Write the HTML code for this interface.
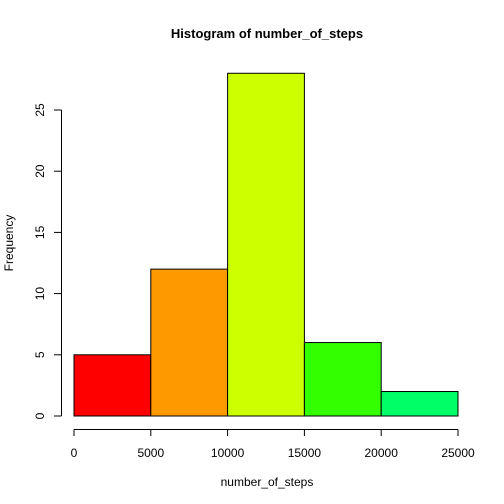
<!DOCTYPE html>
<html><head><meta charset="utf-8"><style>
body{margin:0;background:#fff;}
svg{display:block;font-family:"Liberation Sans",Arial,sans-serif;}
</style></head><body>
<svg id="chart" width="504" height="504">
<rect width="504" height="504" fill="#fff"/>
<text x="267" y="38" text-anchor="middle" font-weight="bold" font-size="13">Histogram of number_of_steps</text>
<text x="267" y="486" text-anchor="middle" font-size="12">number_of_steps</text>
<text transform="translate(13,243) rotate(-90)" text-anchor="middle" font-size="12">Frequency</text>
<g id="bars"></g><g id="xaxis"></g><g id="yaxis"></g>
</svg>
<script>
const binStarts=[0,5000,10000,15000,20000];
const binWidth=5000;
const counts=[5,12,28,6,2];
const colors=["#FF0000","#FF9900","#CCFF00","#33FF00","#00FF66"];
const xTicks=[0,5000,10000,15000,20000,25000];
const yTicks=[0,5,10,15,20,25];
const NS="http://www.w3.org/2000/svg";
const xs=v=>74+v*(384/25000);
const ys=v=>416-v*(306/25);
function mk(t,a,p){const e=document.createElementNS(NS,t);for(const k in a)e.setAttribute(k,a[k]);p.appendChild(e);return e;}
const bars=document.getElementById('bars');
binStarts.forEach((b,i)=>{
  const r=mk('rect',{x:xs(b),y:ys(counts[i]),width:xs(b+binWidth)-xs(b),height:ys(0)-ys(counts[i]),fill:colors[i],stroke:'#000','stroke-width':1},bars);
  
  
});
const xa=document.getElementById('xaxis');


mk('line',{x1:xs(xTicks[0]),x2:xs(xTicks[xTicks.length-1]),y1:429.5,y2:429.5,stroke:'#000'},xa);
xTicks.forEach(t=>{
  mk('line',{x1:xs(t),x2:xs(t),y1:429.5,y2:436,stroke:'#000'},xa);
  const tx=mk('text',{x:xs(t),y:457,'text-anchor':'middle','font-size':12},xa);
  tx.textContent=t;
  
  
});
const ya=document.getElementById('yaxis');


mk('line',{x1:61.5,x2:61.5,y1:ys(yTicks[0]),y2:ys(yTicks[yTicks.length-1]),stroke:'#000'},ya);
yTicks.forEach(t=>{
  mk('line',{x1:54,x2:61.5,y1:ys(t),y2:ys(t),stroke:'#000'},ya);
  const tx=mk('text',{transform:`translate(44,${ys(t)}) rotate(-90)`,'text-anchor':'middle','font-size':12},ya);
  tx.textContent=t;
  
  
});
</script>
</body></html>
